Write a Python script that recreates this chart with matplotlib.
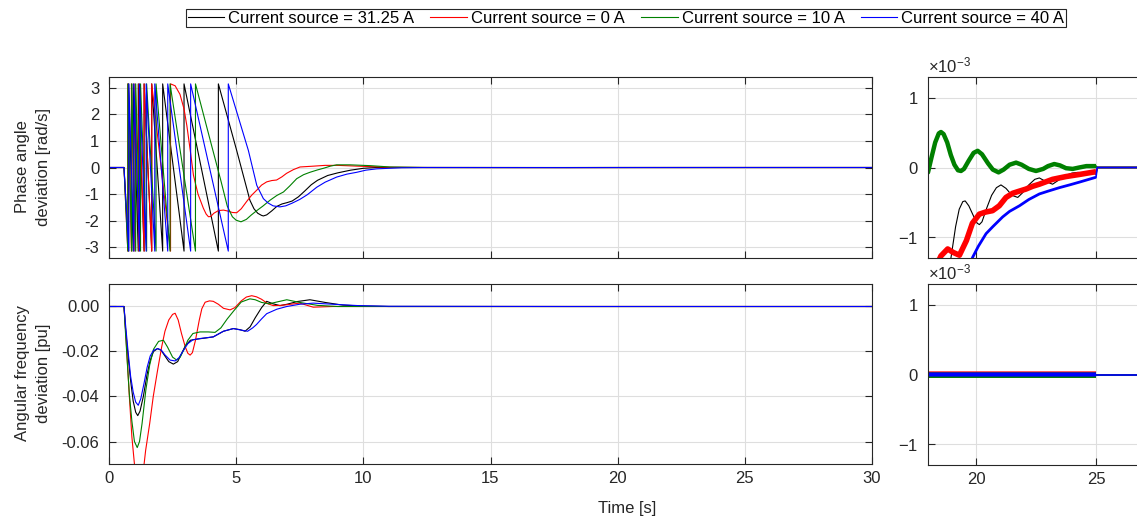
import matplotlib
matplotlib.use('Agg')
import matplotlib.pyplot as plt
import matplotlib.ticker as mticker
import numpy as np

plt.rcParams['font.family'] = ['Liberation Sans', 'DejaVu Sans']
plt.rcParams['mathtext.fontset'] = 'custom'
plt.rcParams['mathtext.rm'] = 'Liberation Sans'
plt.rcParams['axes.unicode_minus'] = False

labels = ["Current source = 31.25 A", "Current source = 0 A",
          "Current source = 10 A", "Current source = 40 A"]
colors = ["#000000", "#ff0000", "#008000", "#0000ff"]
PI = np.pi

# ---- phase angle deviation [rad/s] ----
# times where the wrapped phase hits -pi and jumps back to +pi
wraps_black = [0.77, 0.95, 1.15, 1.38, 1.68, 2.11, 2.95, 4.30]
wraps_red   = [0.74, 0.88, 1.02, 1.18, 1.38, 1.68, 2.42]
wraps_green = [0.74, 0.89, 1.05, 1.24, 1.48, 1.85, 2.40, 3.40]
wraps_blue  = [0.78, 0.98, 1.20, 1.46, 1.80, 2.31, 3.21, 4.69]

# settling part after the last wrap
tail_t_black = [4.60, 5.02, 5.54, 5.70, 5.85, 6.00, 6.07, 6.20, 6.40, 6.60, 6.80, 7.00, 7.20,
                7.45, 7.70, 7.95, 8.20, 8.60, 9.00, 9.50, 10.0, 10.5, 12.5]
tail_black   = [2.10, 0.64, -1.23, -1.55, -1.72, -1.80, -1.82, -1.78, -1.63, -1.46, -1.37,
                -1.32, -1.26, -1.10, -0.88, -0.65, -0.48, -0.30, -0.20, -0.10, -0.03, 0.0, 0.0]
tail_t_red = [2.60, 2.79, 2.95, 3.06, 3.20, 3.32, 3.50, 3.71, 3.82, 3.91, 4.00, 4.12, 4.30, 4.50,
              4.69, 4.85, 5.02, 5.20, 5.41, 5.60, 5.81, 6.00, 6.20, 6.40, 6.59, 6.80, 6.98, 7.25,
              7.51, 8.03, 8.50, 9.00, 9.80, 11.0, 12.5]
tail_red   = [3.07, 2.75, 2.20, 1.58, 0.60, -0.29, -1.00, -1.53, -1.75, -1.85, -1.84, -1.72,
              -1.62, -1.60, -1.64, -1.69, -1.70, -1.55, -1.28, -1.05, -0.85, -0.66, -0.54, -0.49,
              -0.47, -0.35, -0.22, -0.08, 0.02, 0.05, 0.08, 0.08, 0.05, 0.01, 0.0]
tail_t_green = [4.00, 4.40, 4.65, 4.85, 5.00, 5.19, 5.40, 5.60, 5.81, 6.05, 6.33, 6.60, 6.86,
                7.10, 7.38, 7.65, 7.90, 8.20, 8.43, 8.70, 8.95, 9.48, 10.26, 11.05, 12.5]
tail_green   = [0.95, -0.50, -1.45, -1.85, -1.98, -2.04, -1.95, -1.78, -1.62, -1.45, -1.23,
                -1.05, -0.92, -0.70, -0.42, -0.27, -0.18, -0.09, -0.03, 0.05, 0.10, 0.10, 0.07,
                0.02, 0.0]
tail_t_blue = [5.48, 5.81, 6.07, 6.25, 6.45, 6.72, 6.95, 7.20, 7.50, 7.80, 8.17, 8.50, 8.95,
               9.35, 9.74, 10.1, 10.53, 11.5, 12.5]
tail_blue   = [0.64, -0.67, -1.17, -1.33, -1.44, -1.48, -1.44, -1.34, -1.20, -1.02, -0.74,
               -0.55, -0.36, -0.25, -0.18, -0.10, -0.05, -0.01, 0.0]

# detail between 18 s and 25 s (x 1e-3)
zoom_t_black = [18.0, 18.6, 18.96, 19.15, 19.3, 19.45, 19.55, 19.7, 19.9, 20.05, 20.14, 20.25,
                20.45, 20.65, 20.85, 21.04, 21.25, 21.5, 21.74, 21.95, 22.2, 22.45, 22.64, 22.9,
                23.19, 23.45, 23.7, 24.0, 24.24, 24.6, 25.0]
zoom_black   = [-2.6, -1.9, -1.29, -0.85, -0.60, -0.49, -0.48, -0.55, -0.70, -0.80, -0.82,
                -0.78, -0.58, -0.40, -0.29, -0.25, -0.30, -0.40, -0.43, -0.36, -0.25, -0.17,
                -0.15, -0.20, -0.24, -0.18, -0.12, -0.08, -0.07, -0.08, -0.09]
zoom_t_red = [18.0, 18.3, 18.54, 18.82, 19.05, 19.31, 19.6, 19.85, 20.14, 20.4, 20.69, 20.97,
              21.25, 21.53, 21.8, 22.08, 22.36, 22.64, 23.19, 23.75, 24.31, 25.0]
zoom_red   = [-1.75, -1.45, -1.27, -1.17, -1.22, -1.26, -1.05, -0.80, -0.67, -0.64, -0.62,
              -0.55, -0.43, -0.37, -0.34, -0.31, -0.27, -0.24, -0.17, -0.13, -0.10, -0.06]
zoom_t_green = [18.0, 18.15, 18.3, 18.45, 18.54, 18.65, 18.8, 18.95, 19.1, 19.25, 19.375, 19.5,
                19.7, 19.9, 20.07, 20.25, 20.5, 20.7, 20.94, 21.15, 21.4, 21.67, 21.9, 22.2,
                22.5, 22.8, 23.0, 23.26, 23.5, 23.75, 24.03, 24.3, 24.6, 24.86, 25.0]
zoom_green   = [-0.07, 0.15, 0.36, 0.49, 0.51, 0.48, 0.36, 0.18, 0.04, -0.04, -0.05, -0.02,
                0.10, 0.21, 0.24, 0.19, 0.06, -0.03, -0.07, -0.03, 0.04, 0.07, 0.04, -0.02,
                -0.05, -0.02, 0.02, 0.05, 0.03, -0.01, -0.02, 0.0, 0.02, 0.02, 0.02]
zoom_t_blue = [18.0, 19.0, 19.5, 19.86, 20.1, 20.42, 20.7, 21.11, 21.4, 21.81, 22.2, 22.64,
               23.0, 23.47, 23.9, 24.31, 25.0]
zoom_blue   = [-3.0, -2.0, -1.6, -1.29, -1.13, -0.95, -0.85, -0.71, -0.63, -0.55, -0.46,
               -0.38, -0.34, -0.29, -0.25, -0.21, -0.14]

# ---- angular frequency deviation [pu] ----
freq_t_black = [0, 0.59, 0.65, 0.75, 0.85, 0.95, 1.05, 1.13, 1.22, 1.35, 1.5, 1.62, 1.75, 1.91,
                2.05, 2.2, 2.35, 2.53, 2.7, 2.85, 3.0, 3.2, 3.45, 3.8, 4.1, 4.5, 4.89, 5.15,
                5.35, 5.55, 5.75, 6.0, 6.2, 6.45, 6.72, 7.0, 7.4, 7.9, 8.5, 9.2, 10, 11, 18,
                25, 30]
freq_black   = [0, 0, -0.01, -0.022, -0.033, -0.042, -0.047, -0.0485, -0.0465, -0.04, -0.03,
                -0.024, -0.02, -0.0187, -0.0195, -0.022, -0.0245, -0.0256, -0.0245, -0.021,
                -0.0175, -0.015, -0.0145, -0.014, -0.0135, -0.011, -0.0098, -0.0103, -0.011,
                -0.009, -0.005, -0.0005, 0.0023, 0.0012, 0.0004, 0.001, 0.0022, 0.003, 0.0018,
                0.0006, 0.0002, 0, 0, 0, 0]
freq_t_red = [0, 0.59, 0.65, 0.7, 0.8, 0.9, 1.0, 1.1, 1.19, 1.28, 1.38, 1.44, 1.6, 1.74, 1.9,
              2.07, 2.2, 2.35, 2.5, 2.6, 2.72, 2.85, 3.0, 3.1, 3.19, 3.28, 3.4, 3.55, 3.65,
              3.78, 3.95, 4.1, 4.3, 4.5, 4.76, 4.95, 5.2, 5.4, 5.61, 5.8, 6.0, 6.25, 6.46,
              6.75, 7.0, 7.5, 8.03, 8.8, 10, 18, 25, 30]
freq_red   = [0, 0, -0.01, -0.02, -0.04, -0.058, -0.07, -0.0765, -0.078, -0.0765, -0.07,
              -0.064, -0.052, -0.04, -0.029, -0.018, -0.011, -0.006, -0.0035, -0.003, -0.006,
              -0.012, -0.018, -0.0208, -0.0216, -0.0205, -0.015, -0.006, -0.001, 0.0019,
              0.0025, 0.0023, 0.001, -0.0008, -0.0015, -0.0005, 0.0025, 0.0042, 0.0048,
              0.0043, 0.0032, 0.0012, 0.0004, 0.0005, 0.0008, 0.0015, -0.0003, 0.0, 0, 0, 0, 0]
freq_t_green = [0, 0.59, 0.65, 0.72, 0.8, 0.9, 1.0, 1.11, 1.2, 1.3, 1.45, 1.6, 1.75, 1.95,
                2.14, 2.3, 2.5, 2.66, 2.8, 2.95, 3.1, 3.3, 3.58, 3.9, 4.17, 4.4, 4.65, 4.9,
                5.2, 5.54, 5.75, 6.0, 6.3, 6.6, 6.99, 7.5, 8.2, 9.0, 10, 18, 25, 30]
freq_green   = [0, 0, -0.012, -0.025, -0.039, -0.051, -0.06, -0.0627, -0.06, -0.052, -0.037,
                -0.026, -0.019, -0.0155, -0.015, -0.018, -0.0225, -0.0238, -0.0225, -0.019,
                -0.015, -0.012, -0.0113, -0.0113, -0.0115, -0.0095, -0.0055, -0.002, 0.002,
                0.0034, 0.003, 0.0018, 0.0012, 0.002, 0.003, 0.0018, 0.0005, 0.0, 0.0,
                -0.00001, -0.00001, 0]
freq_t_blue = [0, 0.59, 0.65, 0.75, 0.85, 0.95, 1.05, 1.15, 1.25, 1.38, 1.5, 1.62, 1.75, 1.91,
               2.05, 2.2, 2.4, 2.6, 2.75, 2.9, 3.1, 3.3, 3.6, 4.1, 4.5, 4.89, 5.2, 5.45, 5.65,
               5.8, 6.0, 6.2, 6.6, 6.99, 7.5, 8.03, 8.8, 9.8, 11, 18, 25, 30]
freq_blue   = [0, 0, -0.008, -0.02, -0.031, -0.038, -0.0425, -0.0439, -0.041, -0.034, -0.027,
               -0.022, -0.0195, -0.0187, -0.0193, -0.0215, -0.0238, -0.0242, -0.0228, -0.02,
               -0.0165, -0.0148, -0.0142, -0.0135, -0.011, -0.0098, -0.0105, -0.011, -0.0095,
               -0.008, -0.0055, -0.0032, -0.0012, 0.0, 0.001, 0.0015, 0.001, 0.0004, 0.0001,
               0, 0, 0]


def phase_series(wraps, tail_t, tail_y, zoom_t, zoom_y):
    t = [0.0, 0.59, wraps[0]]
    y = [0.0, 0.0, -PI]
    for a, b in zip(wraps[:-1], wraps[1:]):
        t += [a, b]
        y += [PI, -PI]
    t.append(wraps[-1])
    y.append(PI)
    t += tail_t + zoom_t + [25.05, 30.0]
    y += tail_y + [v * 1e-3 for v in zoom_y] + [0.0, 0.0]
    return np.array(t), np.array(y)


phase = [
    phase_series(wraps_black, tail_t_black, tail_black, zoom_t_black, zoom_black),
    phase_series(wraps_red, tail_t_red, tail_red, zoom_t_red, zoom_red),
    phase_series(wraps_green, tail_t_green, tail_green, zoom_t_green, zoom_green),
    phase_series(wraps_blue, tail_t_blue, tail_blue, zoom_t_blue, zoom_blue),
]
freq = [
    (np.array(freq_t_black), np.array(freq_black)),
    (np.array(freq_t_red), np.array(freq_red)),
    (np.array(freq_t_green), np.array(freq_green)),
    (np.array(freq_t_blue), np.array(freq_blue)),
]

W, H = 1137, 518
fig = plt.figure(figsize=(W / 100, H / 100), dpi=100)
ax1 = fig.add_axes([109 / W, 1 - 258 / H, 763 / W, 181 / H])
ax2 = fig.add_axes([109 / W, 1 - 464 / H, 763 / W, 180 / H])
ax3 = fig.add_axes([928 / W, 1 - 258 / H, 288 / W, 181 / H])
ax4 = fig.add_axes([928 / W, 1 - 465 / H, 288 / W, 181 / H])

dark = "#262626"
for ax in (ax1, ax2, ax3, ax4):
    ax.set_facecolor("white")
    ax.grid(True, color="#dedede", linewidth=0.8)
    ax.set_axisbelow(True)
    for s in ax.spines.values():
        s.set_color(dark)
        s.set_linewidth(0.8)
    ax.tick_params(direction="in", length=5, width=0.8, colors=dark, labelsize=12,
                   top=True, right=True)
    ax.tick_params(axis="y", pad=7)
    ax.tick_params(axis="x", pad=5)

handles = []
for (t, y), c, lab in zip(phase, colors, labels):
    h, = ax1.plot(t, y, color=c, linewidth=0.8, label=lab)
    handles.append(h)
for (t, y), c in zip(freq, colors):
    ax2.plot(t, y, color=c, linewidth=0.8)

# zoomed panels: dense oscillations between 18 s and 25 s look like thick bands
thick_top = [0.8, 4.0, 3.2, 2.0]
thick_bot = [0.8, 4.5, 4.0, 3.0]
for ax, series, widths in ((ax3, phase, thick_top), (ax4, freq, thick_bot)):
    for (t, y), c, lw in zip(series, colors, widths):
        m = t <= 25.0
        ax.plot(t[m], y[m], color=c, linewidth=lw, solid_capstyle="butt")
        k = np.flatnonzero(m)[-1]
        ax.plot(t[k:], y[k:], color=c, linewidth=1.2)

ax1.set_xlim(0, 30)
ax1.set_ylim(-3.4, 3.4)
ax1.set_xticks(np.arange(0, 31, 5))
ax1.set_yticks(np.arange(-3, 4, 1))
ax1.tick_params(axis="x", labelbottom=False)

ax2.set_xlim(0, 30)
ax2.set_ylim(-0.07, 0.01)
ax2.set_xticks(np.arange(0, 31, 5))
ax2.set_yticks([-0.06, -0.04, -0.02, 0.0])
ax2.yaxis.set_major_formatter(mticker.FormatStrFormatter("%.2f"))

for ax in (ax3, ax4):
    ax.set_xlim(18, 30)
    ax.set_ylim(-1.3e-3, 1.3e-3)
    ax.set_xticks([20, 25])
    ax.set_yticks([-1e-3, 0, 1e-3])
    fmt = mticker.ScalarFormatter(useMathText=True)
    fmt.set_powerlimits((-2, 2))
    ax.yaxis.set_major_formatter(fmt)
    ax.yaxis.get_offset_text().set_fontsize(12)
    ax.yaxis.get_offset_text().set_color(dark)
ax3.tick_params(axis="x", labelbottom=False)

fig.text(33 / W, 1 - 167 / H, "Phase angle\ndeviation [rad/s]", rotation=90,
         ha="center", va="center", fontsize=12, linespacing=1.45, color=dark)
fig.text(33 / W, 1 - 373 / H, "Angular frequency\ndeviation [pu]", rotation=90,
         ha="center", va="center", fontsize=12, linespacing=1.45, color=dark)
fig.text(627 / W, 1 - 508 / H, "Time [s]", ha="center", va="center", fontsize=12,
         color=dark)

leg = fig.legend(handles, labels, loc="upper center", bbox_to_anchor=(626 / W, 1 - 9 / H),
                 ncol=4, fontsize=12, frameon=True, fancybox=False, framealpha=1,
                 edgecolor=dark, handlelength=2.2, handletextpad=0.25,
                 columnspacing=0.95, borderpad=0.1, borderaxespad=0)
leg.get_frame().set_linewidth(0.8)

fig.savefig("out.png", dpi=100)
